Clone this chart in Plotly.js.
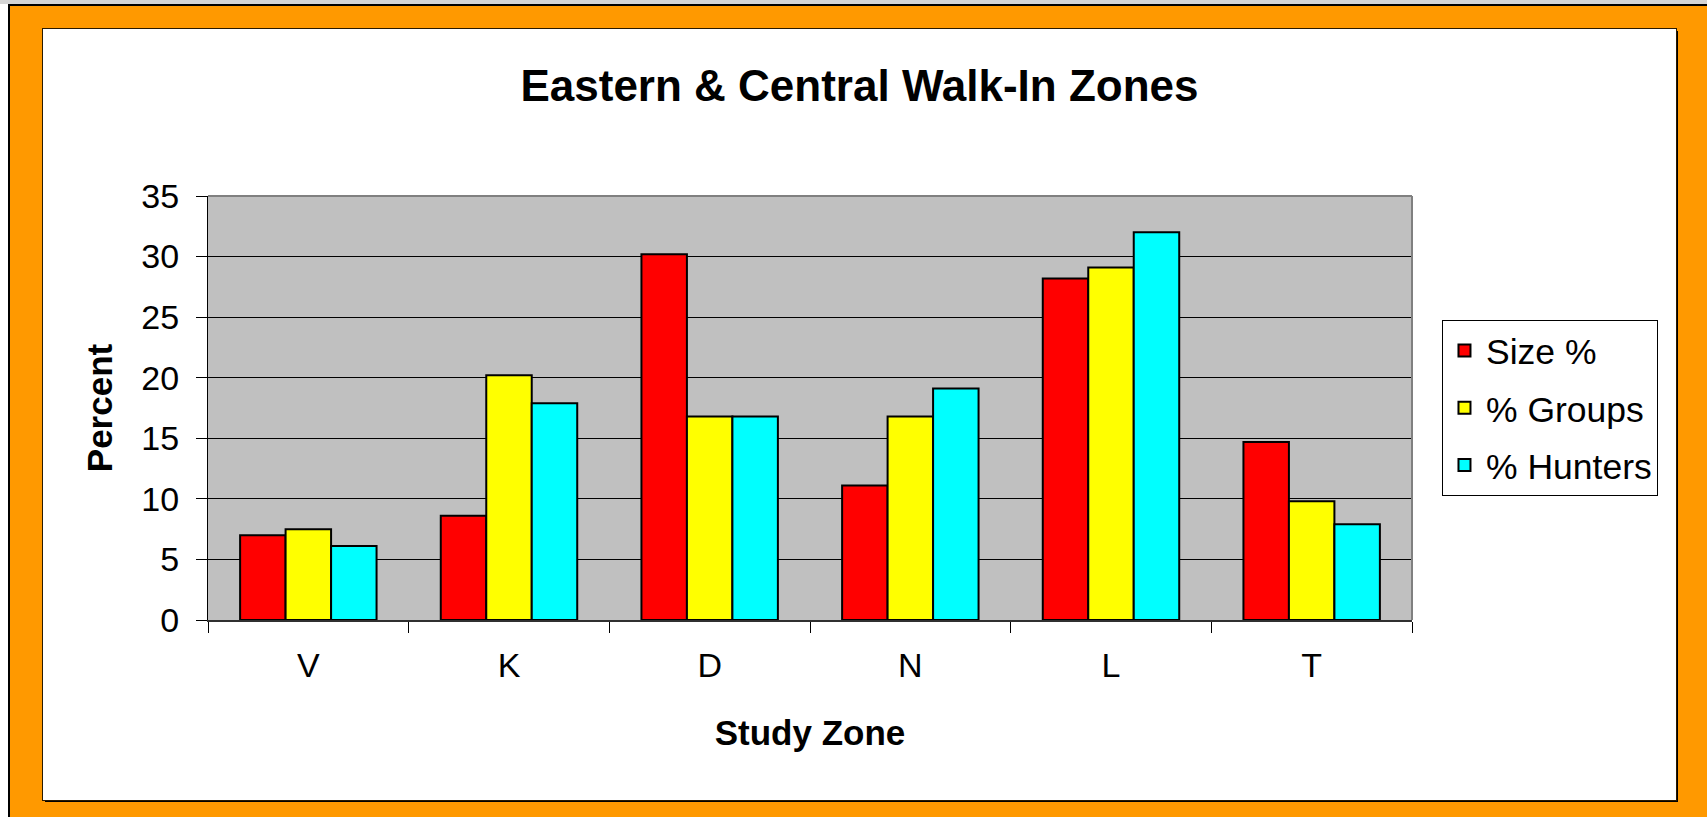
<!DOCTYPE html>
<html>
<head>
<meta charset="utf-8">
<script src="https://cdn.plot.ly/plotly-3.0.1.min.js"></script>
<style>
  html, body { margin: 0; padding: 0; background: #ffffff; width: 1707px; height: 817px; overflow: hidden; }
  #topstrip { position: absolute; left: 0; top: 0; width: 1707px; height: 4px; background: #d4d4d4; }
  #frame { position: absolute; left: 8px; top: 4px; width: 1699px; height: 813px; background: #FF9900;
           border-left: 2px solid #000; border-top: 2px solid #000; box-sizing: border-box; }
  #chart { position: absolute; left: 43px; top: 29px; width: 1633px; height: 771px; background: #fff;
           outline: 1px solid #2a1a00; box-shadow: 2px 2px 0 #000; }
</style>
</head>
<body>
<div id="topstrip"></div>
<div id="frame"></div>
<div id="chart"></div>
<script>
const categories = ["V", "K", "D", "N", "L", "T"];
const sizePct    = [7.0, 8.6, 30.2, 11.1, 28.2, 14.7];
const groupsPct  = [7.5, 20.2, 16.8, 16.8, 29.1, 9.8];
const huntersPct = [6.1, 17.9, 16.8, 19.1, 32.0, 7.9];
const seriesNames = ["Size %", "% Groups", "% Hunters"];
const yTicks = [0, 5, 10, 15, 20, 25, 30, 35];

const FONT = "Liberation Sans, Arial, Helvetica, sans-serif";
const colors = ["#FF0000", "#FFFF00", "#00FFFF"];
const seriesValues = [sizePct, groupsPct, huntersPct];

const traces = seriesValues.map((vals, i) => ({
  type: "bar",
  name: seriesNames[i],
  legendgroup: "g" + i,
  x: categories,
  y: vals,
  marker: { color: colors[i], line: { color: "#000000", width: 2 } },
  hoverinfo: "skip"
}));

const layout = {
  width: 1633,
  height: 771,
  paper_bgcolor: "#FFFFFF",
  plot_bgcolor: "#C0C0C0",
  margin: { l: 165, r: 264, t: 167, b: 180, pad: 0 },
  barmode: "group",
  bargap: 0.32,
  bargroupgap: 0,
  font: { family: FONT, color: "#000000", size: 34 },
  title: {
    text: "<b>Eastern &amp; Central Walk-In Zones</b>",
    font: { family: FONT, size: 44, color: "#000000" },
    x: 0.5, xref: "container", xanchor: "center",
    y: 0.926, yref: "container", yanchor: "middle"
  },
  xaxis: {
    type: "category",
    categoryorder: "array",
    categoryarray: categories,
    showgrid: false,
    showline: true, linecolor: "#303030", linewidth: 2,
    ticks: "outside", ticklen: 11, tickcolor: "#000000", tickwidth: 1,
    tickson: "boundaries",
    tickfont: { family: FONT, size: 34, color: "#000000" },
    ticklabelstandoff: 14,
    title: { text: "<b>Study Zone</b>", font: { family: FONT, size: 35, color: "#000000" }, standoff: 38 },
    zeroline: false,
    fixedrange: true
  },
  yaxis: {
    range: [0, 35],
    tickvals: yTicks,
    ticktext: yTicks.map(String),
    showgrid: true, gridcolor: "#000000", gridwidth: 1,
    showline: true, linecolor: "#000000", linewidth: 1,
    ticks: "outside", ticklen: 11, tickcolor: "#000000", tickwidth: 1,
    tickfont: { family: FONT, size: 34, color: "#000000" },
    ticklabelstandoff: 10,
    title: { text: "<b>Percent</b>", font: { family: FONT, size: 35, color: "#000000" }, standoff: 18 },
    zeroline: false,
    fixedrange: true
  },
  legend: {
    x: 1.0249, xref: "paper", xanchor: "left",
    y: 0.7075, yref: "paper", yanchor: "top",
    bgcolor: "#FFFFFF", bordercolor: "#000000", borderwidth: 1,
    font: { family: FONT, size: 35.5, color: "#000000" },
    traceorder: "grouped",
    tracegroupgap: 8,
    itemwidth: 33
  },
  shapes: [
    { type: "line", xref: "paper", yref: "paper", x0: 0, x1: 1, y0: 1, y1: 1, line: { color: "#808080", width: 2 }, layer: "above" },
    { type: "line", xref: "paper", yref: "paper", x0: 1, x1: 1, y0: 0, y1: 1, line: { color: "#808080", width: 2 }, layer: "above" }
  ],
  showlegend: true
};

Plotly.newPlot("chart", traces, layout, { displayModeBar: false, staticPlot: true });
</script>
</body>
</html>
